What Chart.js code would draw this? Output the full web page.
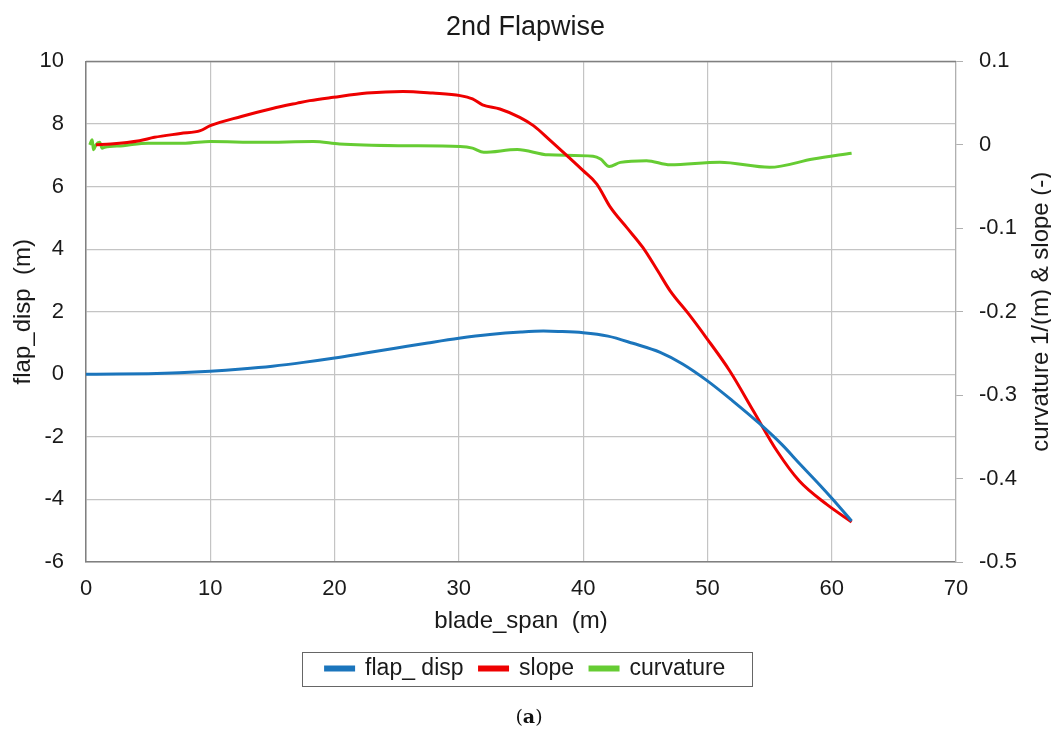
<!DOCTYPE html>
<html>
    <head>
        <meta charset="UTF-8" />
        <title>2nd Flapwise</title>
        <style type="text/css">
            html, body {
                margin: 0;
                padding: 0;
                background: #fff;
            }
            #flapChart {
                display: block;
            }
        </style>
    </head>
    <body>
        <canvas id="flapChart" width="1051" height="742"></canvas>

        <script src="https://cdn.jsdelivr.net/npm/chart.js"></script>
        <script>
            // blade span positions (m) and values for each curve
            const dispSpan = [0, 2.5, 5, 7.5, 10, 12.5, 15, 17.5, 20, 22.5, 25, 27.5, 30, 32.5, 35, 36.8, 38, 40, 42, 44, 46.2, 48, 50, 52, 54.2, 56, 57.4, 59, 60.1, 61.6];
            const flapDisp = [0, 0.005, 0.02, 0.05, 0.1, 0.17, 0.26, 0.38, 0.52, 0.68, 0.84, 1.0, 1.15, 1.27, 1.35, 1.38, 1.37, 1.33, 1.22, 0.99, 0.70, 0.33, -0.21, -0.84, -1.58, -2.25, -2.85, -3.52, -4.0, -4.69];

            const slopeSpan = [0.8, 2, 4.3, 5.5, 7.6, 9.2, 10, 12.5, 15, 17, 18, 19.9, 22.6, 25.5, 27.9, 30.1, 31.1, 31.9, 33.3, 34.9, 36, 37.3, 38.7, 40, 41.1, 42.2, 43.5, 44.8, 46, 47, 48.5, 49.9, 51.8, 53.7, 55.6, 57.4, 59.6, 61.6];
            const slope = [0, 0.001, 0.005, 0.009, 0.0136, 0.017, 0.023, 0.034, 0.0436, 0.05, 0.053, 0.057, 0.062, 0.064, 0.062, 0.059, 0.055, 0.048, 0.043, 0.033, 0.023, 0.006, -0.013, -0.031, -0.047, -0.075, -0.099, -0.123, -0.151, -0.175, -0.203, -0.231, -0.271, -0.319, -0.367, -0.403, -0.431, -0.452];

            const curvSpan = [0.3, 0.5, 0.6, 0.8, 1.1, 1.3, 1.5, 3, 5, 8, 10, 14, 18.3, 20.4, 25.3, 30.1, 31.1, 32, 34.7, 37.2, 40.8, 41.4, 42.1, 43, 45.1, 47, 51, 55, 58.5, 61.6];
            const curvature = [0, 0.006, -0.006, 0, 0.003, -0.004, -0.003, -0.001, 0.002, 0.002, 0.004, 0.003, 0.004, 0.001, -0.001, -0.002, -0.004, -0.009, -0.0056, -0.012, -0.0136, -0.017, -0.026, -0.021, -0.019, -0.024, -0.021, -0.027, -0.017, -0.010];

            const seriesNames = ['flap_ disp', 'slope', 'curvature'];
            const seriesColors = ['#1b75bc', '#ee0000', '#66cc33'];

            const xTicks = [0, 10, 20, 30, 40, 50, 60, 70];
            const leftTicks = [-6, -4, -2, 0, 2, 4, 6, 8, 10];
            const rightTicks = [-0.5, -0.4, -0.3, -0.2, -0.1, 0, 0.1];

            const FONT = 'Liberation Sans, Arial, sans-serif';

            function pairs(xs, ys) {
                return xs.map((x, i) => ({ x: x, y: ys[i] }));
            }

            function lineSet(i, xs, ys, axis) {
                return {
                    label: seriesNames[i],
                    data: pairs(xs, ys),
                    yAxisID: axis,
                    borderColor: seriesColors[i],
                    backgroundColor: seriesColors[i],
                    borderWidth: 3,
                    pointRadius: 0,
                    cubicInterpolationMode: 'monotone',
                    fill: false,
                };
            }

            // frame line on top, boxed legend, right title reading upward, "(a)" caption
            const extras = {
                id: 'extras',
                afterDraw(chart) {
                    const c = chart.ctx;
                    const a = chart.chartArea;
                    c.save();
                    c.strokeStyle = '#808080';
                    c.lineWidth = 1.5;
                    c.beginPath();
                    c.moveTo(a.left, a.top);
                    c.lineTo(a.right, a.top);
                    c.stroke();

                    const hb = chart.legend.legendHitBoxes;
                    if (hb && hb.length) {
                        const last = hb[hb.length - 1];
                        const x0 = hb[0].left - 24;
                        const x1 = last.left + last.width + 26;
                        const cy = hb[0].top + hb[0].height / 2;
                        c.strokeStyle = '#666';
                        c.lineWidth = 1;
                        c.strokeRect(Math.round(x0) + 0.5, Math.round(cy - 17) + 0.5, Math.round(x1 - x0), 34);
                    }

                    c.fillStyle = '#1a1a1a';
                    c.font = '24px ' + FONT;
                    c.textAlign = 'center';
                    c.textBaseline = 'middle';
                    c.translate(1041, (a.top + a.bottom) / 2);
                    c.rotate(-Math.PI / 2);
                    c.fillText('curvature 1/(m) & slope (-)', 0, 0);
                    c.restore();

                    c.save();
                    c.fillStyle = '#111';
                    c.textBaseline = 'middle';
                    const parts = [['(', '19px DejaVu Serif'], ['a', 'bold 19px DejaVu Serif'], [')', '19px DejaVu Serif']];
                    let total = 0;
                    parts.forEach(p => { c.font = p[1]; total += c.measureText(p[0]).width; });
                    let x = 529 - total / 2;
                    parts.forEach(p => {
                        c.font = p[1];
                        c.fillText(p[0], x, 718);
                        x += c.measureText(p[0]).width;
                    });
                    c.restore();
                }
            };

            const chart = new Chart(document.getElementById('flapChart'), {
                type: 'line',
                data: {
                    datasets: [
                        lineSet(0, dispSpan, flapDisp, 'yL'),
                        lineSet(1, slopeSpan, slope, 'yR'),
                        lineSet(2, curvSpan, curvature, 'yR'),
                    ]
                },
                plugins: [extras],
                options: {
                    responsive: false,
                    animation: false,
                    layout: { padding: { left: 0, right: 0, top: 0, bottom: 52 } },
                    plugins: {
                        title: {
                            display: true,
                            text: '2nd Flapwise',
                            color: '#1a1a1a',
                            font: { family: FONT, size: 27, weight: 'normal' },
                            padding: { top: 11, bottom: 18 },
                        },
                        legend: {
                            position: 'bottom',
                            labels: {
                                color: '#1a1a1a',
                                font: { family: FONT, size: 23 },
                                boxWidth: 28,
                                boxHeight: 3,
                                padding: 16,
                            },
                        },
                        tooltip: { enabled: false },
                    },
                    scales: {
                        x: {
                            type: 'linear',
                            min: xTicks[0],
                            max: xTicks[xTicks.length - 1],
                            afterBuildTicks: s => { s.ticks = xTicks.map(v => ({ value: v })); },
                            afterFit: s => { s.height = 79; },
                            grid: { color: '#c4c4c4', lineWidth: 1.2, drawTicks: false },
                            border: { color: '#808080', width: 1.5 },
                            ticks: { color: '#1a1a1a', font: { family: FONT, size: 22 }, padding: 14, maxRotation: 0 },
                            title: {
                                display: true,
                                text: 'blade_span  (m)',
                                color: '#1a1a1a',
                                font: { family: FONT, size: 24 },
                                padding: { top: 0, bottom: 5 },
                            },
                        },
                        yL: {
                            type: 'linear',
                            position: 'left',
                            min: leftTicks[0],
                            max: leftTicks[leftTicks.length - 1],
                            afterBuildTicks: s => { s.ticks = leftTicks.map(v => ({ value: v })); },
                            afterFit: s => { s.width = 86; },
                            grid: { color: '#c4c4c4', lineWidth: 1.2, drawTicks: false },
                            border: { color: '#808080', width: 1.5 },
                            ticks: { color: '#1a1a1a', font: { family: FONT, size: 22 }, padding: 22 },
                            title: {
                                display: true,
                                text: 'flap_disp  (m)',
                                color: '#1a1a1a',
                                font: { family: FONT, size: 24 },
                                padding: { top: 9, bottom: 0 },
                            },
                        },
                        yR: {
                            type: 'linear',
                            position: 'right',
                            min: rightTicks[0],
                            max: rightTicks[rightTicks.length - 1],
                            afterBuildTicks: s => { s.ticks = rightTicks.map(v => ({ value: v })); },
                            afterFit: s => { s.width = 95; },
                            grid: { drawOnChartArea: false, color: '#b0b0b0', tickLength: 7 },
                            border: { color: '#b0b0b0', width: 1.2 },
                            ticks: {
                                color: '#1a1a1a',
                                font: { family: FONT, size: 22 },
                                padding: 16,
                                callback: v => String(Number(v.toFixed(1))),
                            },
                        },
                    },
                },
            });
        </script>
    </body>
</html>
